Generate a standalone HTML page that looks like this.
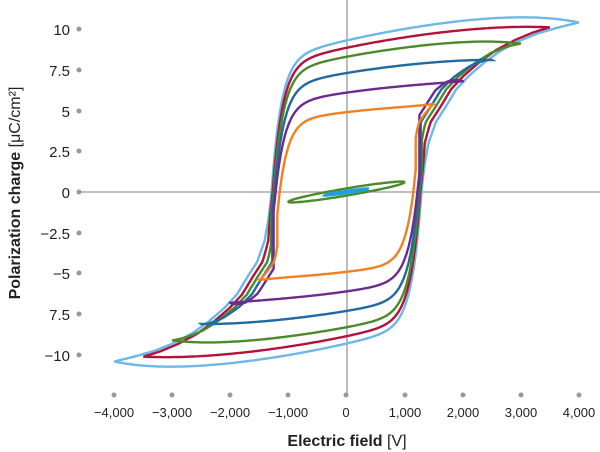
<!DOCTYPE html>
<html><head><meta charset="utf-8"><style>
body{margin:0;background:#fff;width:600px;height:452px;overflow:hidden}
svg{display:block}
text{font-family:"Liberation Sans",sans-serif;fill:#222}
</style></head><body>
<svg id="s" width="600" height="452" viewBox="0 0 600 452">
<line x1="347" y1="0" x2="347" y2="395" stroke="#999" stroke-width="1.3"/>
<line x1="80" y1="192" x2="600" y2="192" stroke="#999" stroke-width="1.3"/>
<g fill="#999">
<circle cx="79" cy="29" r="2.5"/><circle cx="79" cy="70" r="2.5"/><circle cx="79" cy="111" r="2.5"/><circle cx="79" cy="151" r="2.5"/><circle cx="79" cy="192" r="2.5"/><circle cx="79" cy="233" r="2.5"/><circle cx="79" cy="273" r="2.5"/><circle cx="79" cy="314" r="2.5"/><circle cx="79" cy="355" r="2.5"/>
<circle cx="114" cy="395" r="2.5"/><circle cx="172" cy="395" r="2.5"/><circle cx="230" cy="395" r="2.5"/><circle cx="288" cy="395" r="2.5"/><circle cx="346" cy="395" r="2.5"/><circle cx="405" cy="395" r="2.5"/><circle cx="463" cy="395" r="2.5"/><circle cx="521" cy="395" r="2.5"/><circle cx="579" cy="395" r="2.5"/>
</g>
<g font-size="15" text-anchor="end">
<text x="70" y="35">10</text><text x="70" y="76">7.5</text><text x="70" y="117">5</text><text x="70" y="157">2.5</text><text x="70" y="198">0</text><text x="70" y="239">−2.5</text><text x="70" y="279">−5</text><text x="70" y="320">7.5</text><text x="70" y="361">−10</text>
</g>
<g font-size="13" text-anchor="middle">
<text x="114" y="417">−4,000</text><text x="172" y="417">−3,000</text><text x="230" y="417">−2,000</text><text x="288" y="417">−1,000</text><text x="346" y="417">0</text><text x="405" y="417">1,000</text><text x="463" y="417">2,000</text><text x="521" y="417">3,000</text><text x="579" y="417">4,000</text>
</g>
<text x="347" y="446" font-size="16" text-anchor="middle"><tspan font-weight="bold">Electric field</tspan> [V]</text>
<text transform="translate(20,193) rotate(-90)" font-size="16" text-anchor="middle"><tspan font-weight="bold">Polarization charge</tspan> [μC/cm²]</text>
<g id="loops" fill="none" stroke-width="2.4" stroke-linejoin="miter" stroke-miterlimit="5"></g>
</svg>
<script>
var X=function(e){return 346.5+e*0.0581;}, Y=function(p){return 192-p*16.3;};
var loops=[
 [4000,10.4,9.3,1290,0,160,'#6cb8e6'],
 [3500,10.1,8.85,1270,70,160,'#b0143c'],
 [3000,9.1,8.3,1255,140,160,'#4a8a2a'],
 [2500,8.1,7.3,1240,210,160,'#1f6aa0'],
 [2000,6.8,6.1,1220,290,160,'#6a2d8f'],
 [1500,5.4,4.9,1150,150,150,'#f08020']
];
var M=[[0,0],[30,1.0],[60,1.8],[120,3.0],[250,4.3],[413,5.2],[600,6.3],[808,7.1],[1100,8.0],[1377,8.7],[1700,9.3],[2013,9.75],[2350,10.1],[2683,10.4],[3500,11.2],[5000,12.2]];
function minv(P){for(var i=1;i<M.length;i++){if(P<=M[i][1]){var a=M[i-1],b=M[i];return a[0]+(b[0]-a[0])*(P-a[1])/(b[1]-a[1]);}}return 5000;}
function sstep(x){x=Math.max(0,Math.min(1,x));return x*x*(3-2*x);}
var g=document.getElementById('loops'),ns='http://www.w3.org/2000/svg';
loops.forEach(function(L){
 var Em=L[0],Pt=L[1],Pr=L[2],Ec=L[3],s1=L[4],tau=L[5],col=L[6];
 var sl=0.8e-3*Math.pow(Em/4000,0.7), q=9e-8;
 function U0(E){return Pr+sl*E-q*E*E;}
 var hc=Pt-U0(Em);
 function U(E){var r=(E+Em)/(2*Em);return U0(E)+hc*Math.pow(r,10);}
 var rise=[],lastE=Ec;
 for(var P=0;P<13;P+=0.02){var E=Ec+minv(P)-s1*sstep((P-1)/3.5);if(E<lastE)E=lastE;lastE=E;if(E>=Em)break;rise.push([E,P]);}
 rise.push([Em,rise[rise.length-1][1]]);
 var corr=Pt-rise[rise.length-1][1];
 rise=rise.map(function(p){var r=(p[0]-Ec)/(Em-Ec);if(r<0)r=0;return [p[0],p[1]+corr*r*r*r];});
 var up=[],n=220;
 for(var i=0;i<=n;i++){var t=i/n;var dE=(Em+Ec)*Math.pow(1-t,2.2);var E=-Ec+dE;
   up.push([E,U(E)*(1-Math.exp(-dE/tau))]);}
 rise.forEach(function(p,i){if(i>0)up.push([-p[0],-p[1]]);});
 var all=up.concat(up.map(function(p){return [-p[0],-p[1]];}));
 var dd=all.map(function(p,i){return (i?'L':'M')+X(p[0]).toFixed(1)+','+Y(p[1]).toFixed(1);}).join('');
 var p=document.createElementNS(ns,'path');p.setAttribute('d',dd+'Z');p.setAttribute('stroke',col);g.appendChild(p);});
function ell(Em,a,b,col){var d='';for(var i=0;i<=100;i++){var t=2*Math.PI*i/100;var E=Em*Math.cos(t);var P=a*E/Em+b*Math.sin(t);d+=(i?'L':'M')+X(E).toFixed(1)+','+Y(P).toFixed(1);}
 var p=document.createElementNS(ns,'path');p.setAttribute('d',d);p.setAttribute('stroke',col);g.appendChild(p);}
ell(1000,0.6,0.22,'#4a8a2a');
ell(380,0.2,0.07,'#1ea0e0');
</script>
</body></html>
